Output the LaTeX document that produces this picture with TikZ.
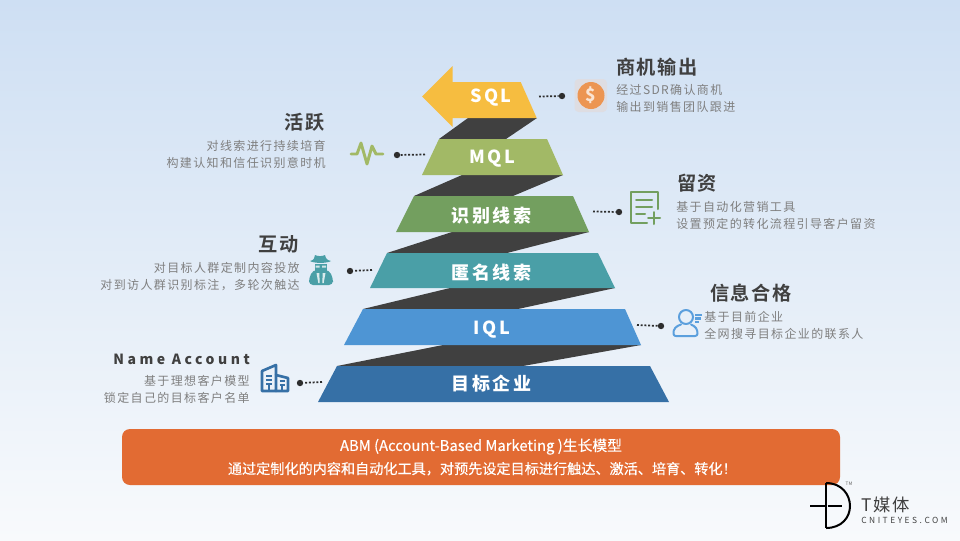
\documentclass[tikz,border=0pt]{standalone}
\usepackage{fontspec}
\setmainfont{Noto Sans CJK SC}
\newfontfamily\bodyf[LetterSpace=11.5]{Noto Sans CJK SC}
\newfontfamily\titlef[LetterSpace=8,BoldFont={Noto Sans CJK SC Bold}]{Noto Sans CJK SC}
\newfontfamily\bandf[LetterSpace=14]{Noto Sans CJK SC}
\newfontfamily\boxf[FakeBold=0.3]{Noto Sans CJK SC}
\newfontfamily\logof[LetterSpace=10]{Noto Sans CJK SC}
\newfontfamily\logos[LetterSpace=30]{Noto Sans CJK SC}
\newfontfamily\namef[LetterSpace=25]{Noto Sans CJK SC}
\usetikzlibrary{shapes.geometric}
\definecolor{bgtop}{HTML}{CEDFF3}
\definecolor{bgbot}{HTML}{F8FAFC}
\definecolor{dark}{HTML}{404040}
\definecolor{cgray}{HTML}{7F7F7F}
\definecolor{csql}{HTML}{F6BD40}
\definecolor{cmql}{HTML}{A2B966}
\definecolor{cid}{HTML}{739F5F}
\definecolor{canon}{HTML}{4A9FA7}
\definecolor{ciql}{HTML}{4E95D4}
\definecolor{ctar}{HTML}{3670A6}
\definecolor{cbox}{HTML}{E26B33}
\definecolor{cuser}{HTML}{5B9FDD}
\definecolor{ccoin}{HTML}{EC9552}
\definecolor{ccoinbg}{HTML}{DEDDE2}
\tikzset{
  x=0.75pt,y=-0.75pt,
  band/.style={fill=dark,draw=none},
  tier/.style={draw=none},
  bandlabel/.style={text=white,inner sep=0pt,font={\bandf\bfseries\fontsize{13.5pt}{15pt}\selectfont}},
  headtext/.style={text=dark,inner sep=0pt,font={\titlef\bfseries\fontsize{14.4pt}{17pt}\selectfont}},
  desc/.style={text=cgray,inner sep=0pt,font={\bodyf\fontsize{9pt}{12.75pt}\selectfont}},
  dotend/.style={circle,fill=dark!70!black,inner sep=0pt,minimum size=4.8pt},
  dotted link/.style={draw=dark!70!black,line width=1.3pt,dash pattern=on 1.4pt off 1.4pt},
  icon/.style={line width=1.5pt,line cap=round,line join=round},
}
\begin{document}
\begin{tikzpicture}
\useasboundingbox (0,0) rectangle (960,540);
\shade[top color=bgtop,bottom color=bgbot] (0,0) rectangle (960,540);
% dark ribbons
\fill[band] (537,118) -- (468,118) -- (439,139) -- (506,139) -- cycle;
\fill[band] (563,175) -- (462,175) -- (414,196) -- (513,196) -- cycle;
\fill[band] (589,232) -- (452,232) -- (387,253) -- (507,253) -- cycle;
\fill[band] (615,288) -- (450,288) -- (363,309) -- (518,309) -- cycle;
\fill[band] (641,345) -- (443,345) -- (337,366) -- (523,366) -- cycle;
% tiers
\fill[tier,csql] (422,96.5) -- (452.5,66) -- (452.5,82) -- (520.7,82) -- (536.7,118) -- (452.5,118) -- (452.5,127) -- cycle;
\fill[tier,cmql] (439,139) -- (547,139) -- (563,175) -- (422,175) -- cycle;
\fill[tier,cid] (414,196) -- (573,196) -- (589,232) -- (396,232) -- cycle;
\fill[tier,canon] (387,253) -- (598,253) -- (615,288) -- (370,288) -- cycle;
\fill[tier,ciql] (363,309) -- (625,309) -- (641,345) -- (344,345) -- cycle;
\fill[tier,ctar] (337,366) -- (650,366) -- (669,402) -- (318,402) -- cycle;
\node[bandlabel] (lsql) at (491,98) {SQL};
\node[bandlabel] (lmql) at (492,158.5) {MQL};
\node[bandlabel] (lid) at (491.5,216) {识别线索};
\node[bandlabel] (lanon) at (491.5,273) {匿名线索};
\node[bandlabel] (liql) at (492,330) {IQL};
\node[bandlabel] (ltar) at (491.5,384) {目标企业};
% connectors
\coordinate (csql) at (539,96.5);
\node[dotend] (dsql) at (562,96) {};
\draw[dotted link] (csql) -- (dsql);
\coordinate (cmql) at (425,154.5);
\node[dotend] (dmql) at (397,155) {};
\draw[dotted link] (cmql) -- (dmql);
\coordinate (cid) at (593,211.5);
\node[dotend] (did) at (619,212) {};
\draw[dotted link] (cid) -- (did);
\coordinate (canon) at (372,270);
\node[dotend] (danon) at (350,271) {};
\draw[dotted link] (canon) -- (danon);
\coordinate (ciql) at (637,325);
\node[dotend] (diql) at (661,326) {};
\draw[dotted link] (ciql) -- (diql);
\coordinate (ctar) at (322,382);
\node[dotend] (dtar) at (300,383) {};
\draw[dotted link] (ctar) -- (dtar);
% texts
\node[headtext,anchor=west] (h1) at (616,67) {商机输出};
\node[desc,anchor=west,align=left] (t1) at (616,98.5) {经过SDR确认商机\\输出到销售团队跟进};
\node[headtext,anchor=east] (h2) at (325,122) {活跃};
\node[desc,anchor=east,align=right] (t2) at (326,154.5) {对线索进行持续培育\\构建认知和信任识别意时机};
\node[headtext,anchor=west] (h3) at (677,183) {留资};
\node[desc,anchor=west,align=left] (t3) at (676,215.5) {基于自动化营销工具\\设置预定的转化流程引导客户留资};
\node[headtext,anchor=east] (h4) at (299,244) {互动};
\node[desc,anchor=east,align=right] (t4) at (300,276.5) {对目标人群定制内容投放\\对到访人群识别标注，多轮次触达};
\node[headtext,anchor=west] (h5) at (710,293) {信息合格};
\node[desc,anchor=west,align=left] (t5) at (704,325.5) {基于目前企业\\全网搜寻目标企业的联系人};
\node[text=dark,inner sep=0pt,anchor=east,font={\namef\bfseries\fontsize{10.5pt}{12pt}\selectfont}] (h6) at (250,359) {Name Account};
\node[desc,anchor=east,align=right] (t6) at (250,389.5) {基于理想客户模型\\锁定自己的目标客户名单};
% bottom banner
\node[draw=none,fill=cbox,rounded corners=6pt,minimum width=538.5pt,minimum height=42pt,inner sep=0pt,align=center,text=white,font={\boxf\fontsize{10.6pt}{17.25pt}\selectfont}] (banner) at (481,457) {{\fontsize{11.1pt}{17.25pt}\selectfont ABM (Account-Based Marketing )生长模型}\\\hspace*{2pt}通过定制化的内容和自动化工具，对预先设定目标进行触达、激活、培育、转化！};
% coin icon
\fill[ccoinbg,rounded corners=3pt] (574.5,79) rectangle (607,112);
\fill[ccoin] (591,95.5) circle[radius=13.5];
\node[text=white,opacity=.75,inner sep=0pt,font={\bfseries\fontsize{13pt}{14pt}\selectfont}] (coin) at (591,95) {\$};
% pulse icon
\draw[cmql,line width=2.2pt,line cap=round,line join=round] (351,154) -- (357,154) -- (361,143) -- (367,164) -- (372,146) -- (376,154) -- (383,154);
% document icon
\draw[cid,icon] (658,209) -- (658,192) -- (631,192) -- (631,223) -- (647,223);
\draw[cid,icon] (636,200) -- (652,200) (636,207) -- (652,207) (636,214) -- (645,214);
\draw[cid,icon] (648,218) -- (660,218) (654,212) -- (654,224);
% agent icon
\fill[canon] (310,261) .. controls (314,260) and (314,259) .. (315,255) .. controls (318,256.5) and (322,256.5) .. (325,255) .. controls (326,259) and (327,260) .. (331,261) .. controls (327,263.5) and (314,263.5) .. (310,261) -- cycle;
\fill[canon] (314.5,264) rectangle (327,271);
\fill[white,opacity=.75] (315.5,265.5) rectangle (319.5,267.5) (322,265.5) rectangle (326,267.5);
\fill[canon,rounded corners=3pt] (313,270) -- (329,270) -- (333,278) -- (333,285) -- (309,285) -- (309,278) -- cycle;
\fill[white,opacity=.8] (316.5,273) -- (319.3,273) -- (319.7,283) -- (318.3,283) -- cycle (325.5,273) -- (322.7,273) -- (322.3,283) -- (323.7,283) -- cycle;
% user icon
\draw[cuser,icon] (686,317) circle[radius=7];
\draw[cuser,icon] (681,324.5) .. controls (676,326) and (673,329) .. (673.5,334) .. controls (673.7,335.5) and (675,336) .. (676,336) -- (695,336) .. controls (696.5,336) and (697.3,335) .. (697.5,334) .. controls (697.8,329) and (695,326) .. (691,324.5);
\draw[cuser,line width=1.6pt] (695,315) -- (702,315) (695,318.5) -- (701,318.5) (695,322) -- (699,322);
% building icon
\draw[ctar,line width=2pt,line join=round,line cap=round] (262,391) -- (262,371) -- (276,365) -- (276,391) -- cycle;
\draw[ctar,line width=2pt,line join=round,line cap=round] (276,375) -- (288,378) -- (288,391) -- (276,391);
\draw[ctar,line width=1.2pt] (266,376) -- (272,376) (266,380) -- (272,380) (266,384) -- (272,384) (269,384) -- (269,391) (279.5,381) -- (285,381) (279.5,385) -- (285,385) (282,385) -- (282,391);
% logo
\draw[black,line width=1.5pt] (826,483) -- (826,528);
\draw[black,line width=1.5pt] (826,483) .. controls (842,483) and (850,495) .. (850,506) .. controls (850,517) and (842,528) .. (826,528);
\draw[black,line width=1.5pt] (810,506) -- (824.5,506) (827.5,506) -- (842,506);
\node[text=black!60,inner sep=0pt,font=\fontsize{3.5pt}{4pt}\selectfont] (tm) at (849,483.5) {TM};
\node[text=dark,anchor=west,inner sep=0pt,font={\logof\fontsize{13pt}{15pt}\selectfont}] (l1) at (861,505) {T媒体};
\node[text=dark,anchor=west,inner sep=0pt,font={\logos\fontsize{6.3pt}{7pt}\selectfont}] (l2) at (861,520) {CNITEYES.COM};
\end{tikzpicture}
\end{document}
